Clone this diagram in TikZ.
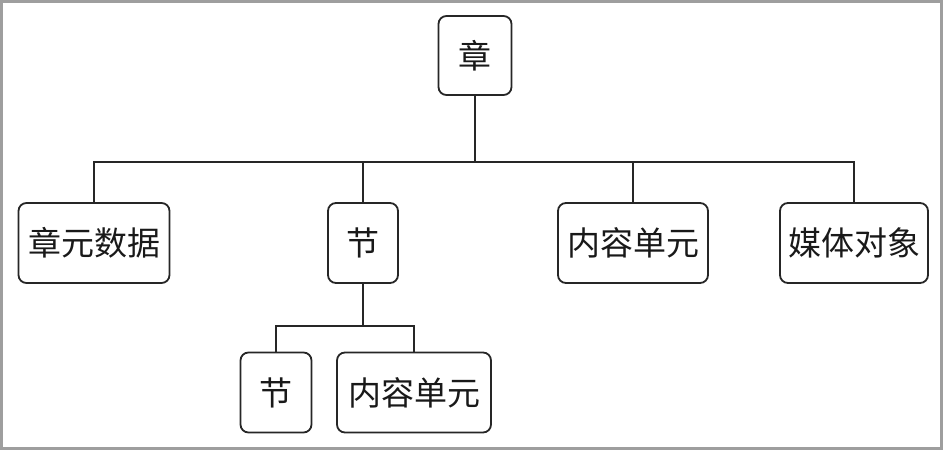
\documentclass[tikz,border=0pt]{standalone}
\usepackage{fontspec}
\newfontfamily\cjk{Noto Sans CJK SC}
\begin{document}
\begin{tikzpicture}[x=1pt,y=-1pt,
  box/.style={draw=black!85,line width=1.8pt,rounded corners=8pt,inner sep=0pt,
    font=\cjk\fontsize{33}{33}\selectfont,text=black!90,minimum height=80pt},
  link/.style={draw=black!85,line width=2pt}]
\useasboundingbox (0,0) rectangle (943,450);
\draw[color=black!38,line width=3pt] (1.5,1.5) rectangle (941.5,448.5);
\node[box,minimum width=73pt,minimum height=79pt] (zhang) at (475,55.5) {章};
\node[box,minimum width=151pt] (meta) at (94,243) {章元数据};
\node[box,minimum width=70pt] (jie1) at (363,243) {节};
\node[box,minimum width=150pt] (nr1) at (633,243) {内容单元};
\node[box,minimum width=148pt] (mt) at (854,243) {媒体对象};
\node[box,minimum width=71pt] (jie2) at (276,392.5) {节};
\node[box,minimum width=154pt] (nr2) at (414,392.5) {内容单元};
\coordinate (bus1) at (475,162);
\coordinate (bus2) at (363,326);
\draw[link] (zhang.south) -- (bus1);
\draw[link] (meta.north) |- (bus1) -| (mt.north);
\draw[link] (jie1.north) -- (jie1.north |- bus1);
\draw[link] (nr1.north) -- (nr1.north |- bus1);
\draw[link] (jie1.south) -- (bus2);
\draw[link] (jie2.north) |- (bus2) -| (nr2.north);
\end{tikzpicture}
\end{document}
